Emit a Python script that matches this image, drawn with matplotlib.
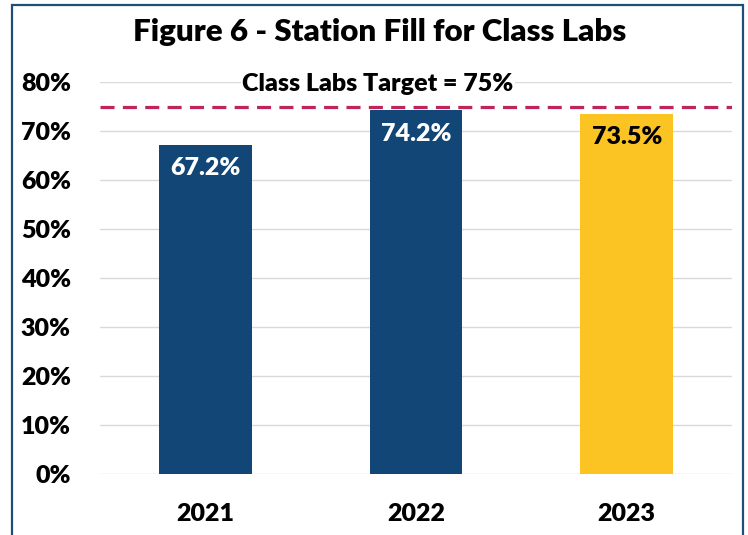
import matplotlib.pyplot as plt
from matplotlib.patches import Rectangle

plt.rcParams['font.family'] = ['Lato', 'DejaVu Sans']
plt.rcParams['font.weight'] = 'heavy'

years = ['2021', '2022', '2023']
fill = [67.2, 74.2, 73.5]
target = 75
bar_colors = ['#124677', '#124677', '#FCC423']
label_colors = ['white', 'white', 'black']

fig = plt.figure(figsize=(7.48, 5.35), dpi=100)
ax = fig.add_axes([0.1337, 0.114, 0.845, 0.7327])

x = range(len(years))
bars = ax.bar(x, fill, width=0.44, color=bar_colors, zorder=2)

# value labels inside the bars
for b, v, c in zip(bars, fill, label_colors):
    ax.annotate(f'{v:.1f}%', (b.get_x() + b.get_width() / 2, v),
                xytext=(0, -17), textcoords='offset points',
                ha='center', va='center', color=c, fontsize=18, fontweight='heavy')

ax.axhline(target, color='#C0245C', lw=2.3, ls=(0, (4.4, 2.6)), zorder=3)
ax.text(0.82, target + 4.5, f'Class Labs Target = {target}%', ha='center', va='center',
        fontsize=18, fontweight='heavy', color='black', zorder=4,
        bbox=dict(facecolor='white', edgecolor='none', pad=1))

ax.set_xlim(-0.5, 2.5)
ax.set_ylim(0, 80)
ax.set_yticks(range(0, 81, 10))
ax.set_yticklabels([f'{t}%' for t in range(0, 81, 10)])
ax.set_xticks(list(x))
ax.set_xticklabels(years)
ax.tick_params(axis='y', length=0, pad=21, labelsize=18)
ax.tick_params(axis='x', length=0, pad=21, labelsize=18)
for s in ax.spines.values():
    s.set_visible(False)
ax.grid(axis='y', color='#d9d9d9', lw=1, zorder=0)
ax.set_axisbelow(True)

fig.text(0.508, 0.94, 'Figure 6 - Station Fill for Class Labs', ha='center', va='center',
         fontsize=22.5, fontweight='heavy')

# blue frame around the whole figure (bottom edge is cut off in the original)
frame = Rectangle((12 / 748, -0.05), (743 - 12) / 748, 1.05 - 5 / 535,
                  transform=fig.transFigure, fill=False, edgecolor='#1F4E79', lw=1.6)
fig.patches.append(frame)

fig.savefig('out.png', dpi=100)
